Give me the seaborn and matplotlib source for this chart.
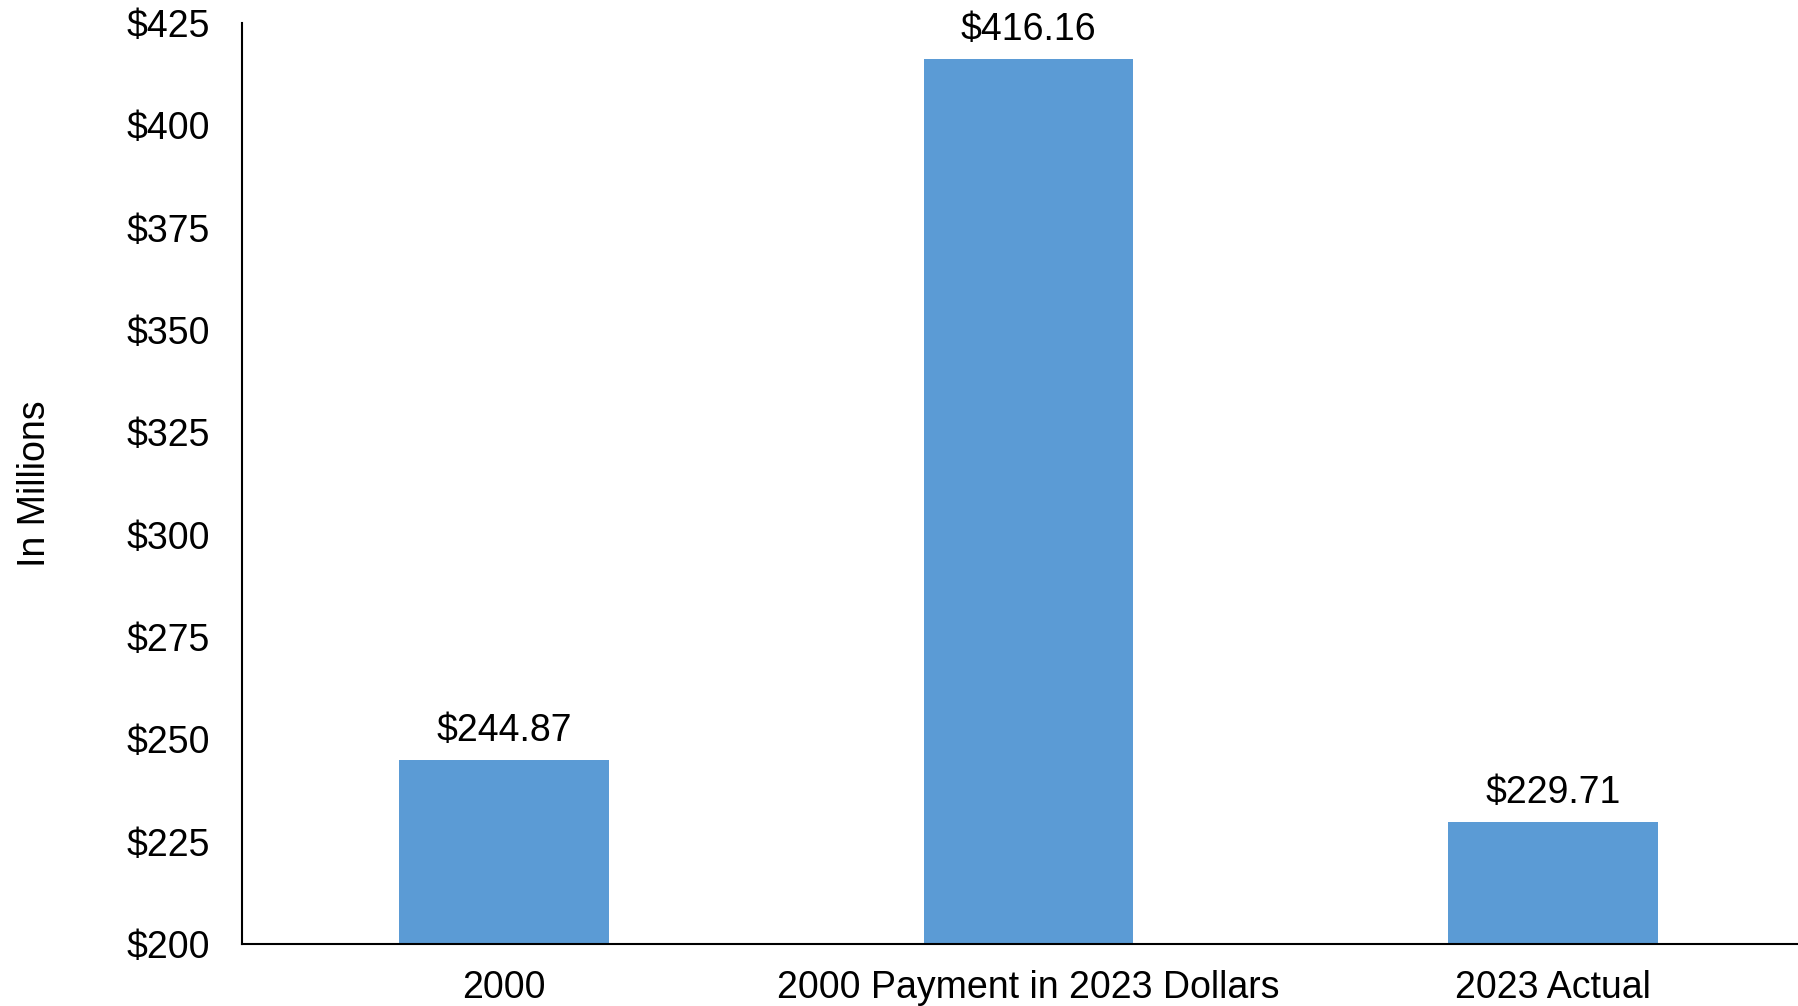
import matplotlib
matplotlib.use("Agg")
import matplotlib.pyplot as plt
import seaborn as sns
import pandas as pd

categories = ["2000", "2000 Payment in 2023 Dollars", "2023 Actual"]
values = [244.87, 416.16, 229.71]
y_ticks = [200, 225, 250, 275, 300, 325, 350, 375, 400, 425]
y_label = "In Millions"
bar_color = "#5B9BD5"

sns.set_theme(style="white")
plt.rcParams["font.family"] = ["Liberation Sans", "DejaVu Sans"]

df = pd.DataFrame({"cat": categories, "val": values})

fig = plt.figure(figsize=(17.98, 10.06), dpi=100)
ax = fig.add_axes([242 / 1798, 62 / 1006, 1573 / 1798, 921 / 1006])

sns.barplot(data=df, x="cat", y="val", color=bar_color, saturation=1,
            width=0.40, ax=ax, edgecolor="none", linewidth=0)

fs = 27
ax.set_xlim(-0.5, 2.5)
ax.set_ylim(200, 425)
ax.set_yticks(y_ticks)
ax.set_yticklabels([f"${t}" for t in y_ticks])
ax.set_xlabel("")
ax.set_ylabel(y_label, fontsize=fs, color="black", labelpad=53)

ax.tick_params(axis="y", length=0, pad=23, labelsize=fs, labelcolor="black")
ax.tick_params(axis="x", length=0, pad=19, labelsize=fs, labelcolor="black")

for side in ["top", "right"]:
    ax.spines[side].set_visible(False)
for side in ["left", "bottom"]:
    ax.spines[side].set_color("black")
    ax.spines[side].set_linewidth(1.5)

container = ax.containers[0]
ax.bar_label(container, labels=[f"${v:.2f}" for v in values],
             padding=8, fontsize=fs, color="black")

fig.savefig("out.png", dpi=100)
